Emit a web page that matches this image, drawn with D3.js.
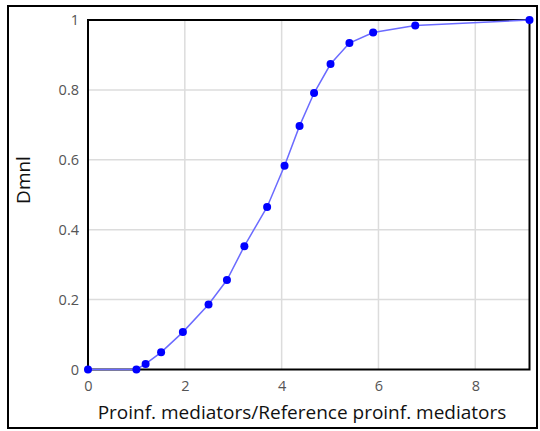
<!DOCTYPE html>
<html>
<head>
<meta charset="utf-8">
<script src="https://cdn.jsdelivr.net/npm/d3@7"></script>
<style>
  html, body { margin: 0; padding: 0; background: #fff; }
  svg { display: block; }
</style>
</head>
<body>
<div id="chart"></div>
<script>
// Lookup curve
const xValues = [0, 1, 1.19, 1.51, 1.96, 2.49, 2.87, 3.23, 3.70, 4.06, 4.37, 4.67, 5.01, 5.40, 5.89, 6.76, 9.12]
const yValues = [0, 0, 0.016, 0.049, 0.107, 0.186, 0.256, 0.353, 0.465, 0.583, 0.697, 0.791, 0.874, 0.934, 0.964, 0.984, 1.0]
const xTicks = [0, 2, 4, 6, 8]
const yTicks = [0, 0.2, 0.4, 0.6, 0.8, 1]
const xLabel = "Proinf. mediators/Reference proinf. mediators"
const yLabel = "Dmnl"

const width = 540
const height = 431
const margin = { left: 88, top: 20, right: 540 - 529.5, bottom: 431 - 369.5 }

const points = xValues.map((x, i) => ({ x, y: yValues[i] }))

const x = d3.scaleLinear().domain([0, 9.12]).range([margin.left, width - margin.right])
const y = d3.scaleLinear().domain([0, 1]).range([height - margin.bottom, margin.top])

const svg = d3.select("#chart").append("svg")
  .attr("width", width)
  .attr("height", height)

// outer frame
svg.append("rect")
  .attr("x", 8).attr("y", 6)
  .attr("width", 529).attr("height", 422)
  .attr("fill", "none")
  .attr("stroke", "#000")
  .attr("stroke-width", 2)

// grid
const grid = svg.append("g").attr("stroke", "#dcdcdc").attr("stroke-width", 1.5)
grid.selectAll("line.v")
  .data(xTicks.filter(t => t > 0))
  .join("line")
  .attr("x1", d => x(d)).attr("x2", d => x(d))
  .attr("y1", y(0)).attr("y2", y(1))
grid.selectAll("line.h")
  .data(yTicks.filter(t => t > 0 && t < 1))
  .join("line")
  .attr("x1", x.range()[0]).attr("x2", x.range()[1])
  .attr("y1", d => y(d)).attr("y2", d => y(d))

// axes (labels only, no tick marks)
const xAxis = svg.append("g")
  .attr("transform", `translate(0,${y(0)})`)
  .call(d3.axisBottom(x).tickValues(xTicks).tickFormat(d3.format("d")).tickSize(0).tickPadding(11))
const yAxis = svg.append("g")
  .attr("transform", `translate(${x(0)},0)`)
  .call(d3.axisLeft(y).tickValues(yTicks).tickFormat(d => d === 0 || d === 1 ? d : d3.format(".1f")(d)).tickSize(0).tickPadding(9))

for (const ax of [xAxis, yAxis]) {
  ax.select(".domain").remove()
  ax.selectAll("text")
    .attr("fill", "#555")
    .style("font-family", "'Open Sans', 'Noto Sans', sans-serif")
    .style("font-size", "14.5px")
}

// plot border
svg.append("rect")
  .attr("x", x.range()[0]).attr("y", y(1))
  .attr("width", x.range()[1] - x.range()[0])
  .attr("height", y(0) - y(1))
  .attr("fill", "none")
  .attr("stroke", "#000")
  .attr("stroke-width", 2)

// curve
svg.append("path")
  .datum(points)
  .attr("fill", "none")
  .attr("stroke", "#6b6bff")
  .attr("stroke-width", 1.5)
  .attr("d", d3.line().x(d => x(d.x)).y(d => y(d.y)))

svg.append("g")
  .selectAll("circle")
  .data(points)
  .join("circle")
  .attr("cx", d => x(d.x))
  .attr("cy", d => y(d.y))
  .attr("r", 4)
  .attr("fill", "#0000ff")

// axis titles
svg.append("text")
  .attr("x", 302).attr("y", 419)
  .attr("text-anchor", "middle")
  .style("font-family", "'Open Sans', 'Noto Sans', sans-serif")
  .style("font-size", "19px")
  .attr("fill", "#111")
  .text(xLabel)

svg.append("text")
  .attr("transform", "translate(30,180) rotate(-90)")
  .attr("text-anchor", "middle")
  .style("font-family", "'Open Sans', 'Noto Sans', sans-serif")
  .style("font-size", "19px")
  .attr("fill", "#111")
  .text(yLabel)
</script>
</body>
</html>
